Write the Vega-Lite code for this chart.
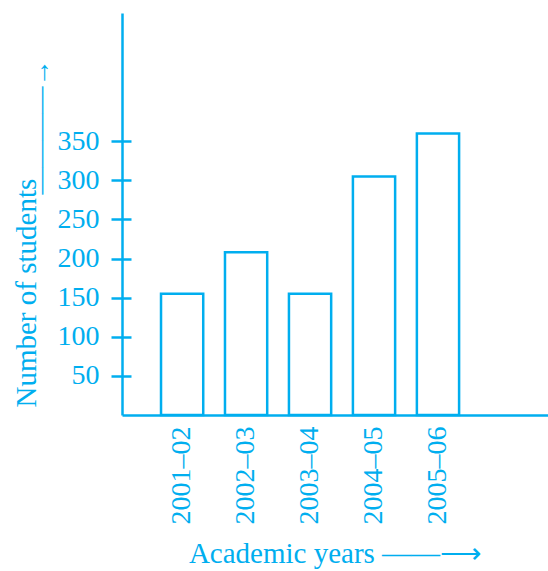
{
  "$schema": "https://vega.github.io/schema/vega-lite/v6.json",
  "width": 426,
  "height": 402,
  "autosize": "none",
  "padding": {"left": 122, "top": 13, "right": 0, "bottom": 156},
  "background": "white",
  "config": {"view": {"stroke": null}},
  "data": {
    "values": [
      {"year": "2001–02", "students": 155},
      {"year": "2002–03", "students": 208},
      {"year": "2003–04", "students": 155},
      {"year": "2004–05", "students": 305},
      {"year": "2005–06", "students": 360}
    ]
  },
  "encoding": {
    "x": {
      "field": "year", "type": "nominal", "sort": null,
      "scale": {"paddingInner": 0.34, "paddingOuter": 1.019, "align": 0.305},
      "axis": {
        "orient": "bottom", "labelAngle": -90, "ticks": false, "tickSize": 0,
        "domainColor": "#00AEEF", "domainWidth": 2.5,
        "labelFont": "Liberation Serif", "labelFontSize": 28, "labelColor": "#00AEEF",
        "labelPadding": 11,
        "title": "Academic years ——⟶",
        "titleFont": "Liberation Serif", "titleFontSize": 29, "titleFontWeight": "normal",
        "titleColor": "#00AEEF", "titlePadding": 15
      }
    }
  },
  "layer": [
    {
      "mark": {"type": "bar", "fill": "white", "stroke": "#00AEEF", "strokeWidth": 2.5},
      "encoding": {
        "y": {
          "field": "students", "type": "quantitative",
          "scale": {"domain": [0, 514], "nice": false},
          "axis": {
            "orient": "left", "values": [50, 100, 150, 200, 250, 300, 350],
            "grid": false, "domainColor": "#00AEEF", "domainWidth": 2.5,
            "tickColor": "#00AEEF", "tickWidth": 2.5, "tickSize": 11,
            "labelFont": "Liberation Serif", "labelFontSize": 28, "labelColor": "#00AEEF",
            "labelPadding": 12,
            "title": "Number of students",
            "titleFont": "Liberation Serif", "titleFontSize": 29, "titleFontWeight": "normal",
            "titleColor": "#00AEEF", "titleAnchor": "start", "titlePadding": 16, "titleY": 394
          }
        }
      }
    },
    {
      "mark": {"type": "bar", "opacity": 0},
      "encoding": {
        "y": {
          "field": "students", "type": "quantitative",
          "axis": {
            "orient": "left", "offset": -9, "values": [50, 100, 150, 200, 250, 300, 350],
            "grid": false, "domain": false, "labels": false, "ticks": true,
            "tickColor": "#00AEEF", "tickWidth": 2.5, "tickSize": 9,
            "title": "————→",
            "titleFont": "Liberation Serif", "titleFontSize": 27, "titleFontWeight": "normal",
            "titleColor": "#00AEEF", "titleAngle": -90, "titleAlign": "left",
            "titleBaseline": "alphabetic", "titleX": -83, "titleY": 181
          }
        }
      }
    }
  ],
  "resolve": {"axis": {"y": "independent"}}
}
